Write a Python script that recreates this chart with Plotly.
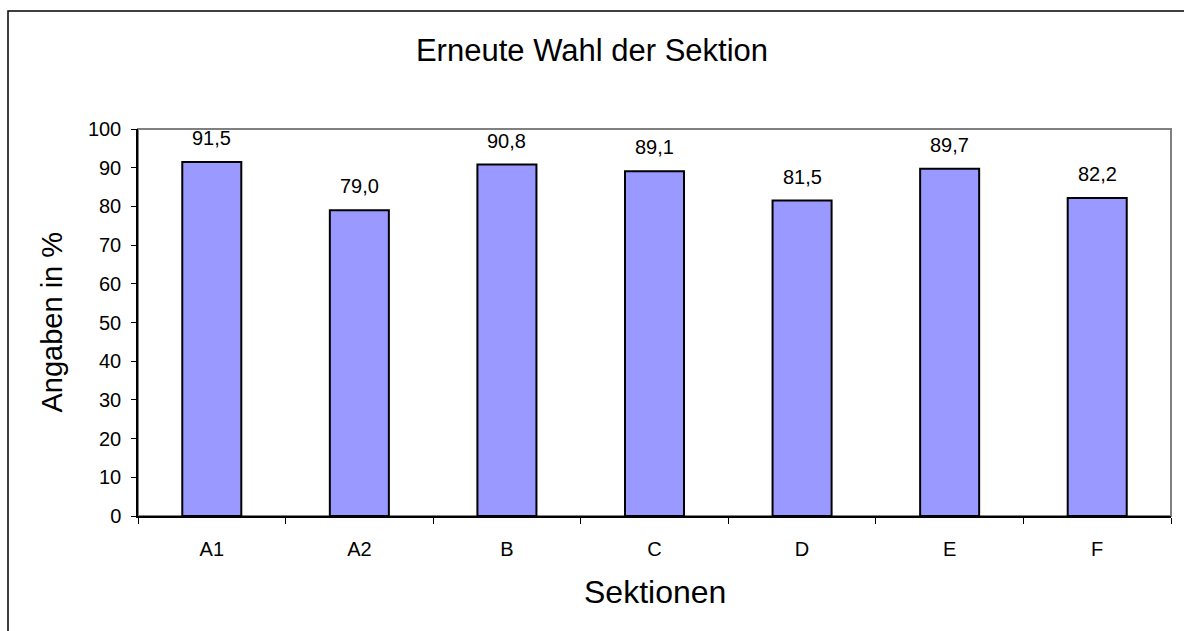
import plotly.graph_objects as go

categories = ["A1", "A2", "B", "C", "D", "E", "F"]
values = [91.5, 79.0, 90.8, 89.1, 81.5, 89.7, 82.2]
y_ticks = [0, 10, 20, 30, 40, 50, 60, 70, 80, 90, 100]

labels = [f"{v:.1f}".replace(".", ",") for v in values]

FONT = "Liberation Sans, Arial, sans-serif"
W, H = 1184, 631
L, R, T, B = 138, 1171, 129, 516
pw, ph = R - L, B - T

fig = go.Figure()
fig.add_trace(go.Bar(
    x=categories, y=values, width=0.4,
    marker=dict(color="#9999FF", line=dict(color="black", width=2)),
    hoverinfo="x+y",
))

annotations = []
for c, v, t in zip(categories, values, labels):
    annotations.append(dict(x=c, y=v, xref="x", yref="y", text=t, showarrow=False,
                            yanchor="bottom", yshift=11,
                            font=dict(family=FONT, size=20, color="black")))
# axis titles
annotations.append(dict(x=(51 - L) / pw, y=0.5, xref="paper", yref="paper",
                        text="Angaben in %", textangle=-90, showarrow=False,
                        xanchor="center", yanchor="middle",
                        font=dict(family=FONT, size=29, color="black")))
annotations.append(dict(x=0.5, y=(B - 592) / ph, xref="paper", yref="paper",
                        text="Sektionen", showarrow=False,
                        xanchor="center", yanchor="middle",
                        font=dict(family=FONT, size=32, color="black")))

shapes = [
    # plot area frame (grey)
    dict(type="rect", xref="paper", yref="paper", x0=0, x1=1, y0=0, y1=1,
         line=dict(color="#808080", width=2), layer="below"),
    # outer chart border
    dict(type="rect", xref="paper", yref="paper",
         x0=(8 - L) / pw, x1=(1200 - L) / pw, y0=(B - 650) / ph, y1=(B - 11) / ph,
         line=dict(color="black", width=1.5), layer="below"),
]

fig.update_layout(
    width=W, height=H,
    margin=dict(l=L, r=W - R, t=T, b=H - B),
    paper_bgcolor="white", plot_bgcolor="white",
    showlegend=False,
    title=dict(text="Erneute Wahl der Sektion", x=0.5, xref="container",
               y=1 - 50 / H, yref="container", xanchor="center", yanchor="middle",
               font=dict(family=FONT, size=31, color="black")),
    font=dict(family=FONT, color="black"),
    annotations=annotations,
    shapes=shapes,
    bargap=0.6,
)
fig.update_xaxes(
    type="category", showgrid=False, showline=True, linecolor="black", linewidth=1.5,
    ticks="outside", tickson="boundaries", ticklen=6, tickcolor="black", tickwidth=1,
    tickfont=dict(family=FONT, size=20, color="black"), ticklabelstandoff=14,
)
fig.update_yaxes(
    range=[0, 100], tickvals=y_ticks, showgrid=False, zeroline=False,
    showline=True, linecolor="black", linewidth=1.5,
    ticks="outside", ticklen=5, tickcolor="black", tickwidth=1,
    tickfont=dict(family=FONT, size=20, color="black"), ticklabelstandoff=6,
)

fig.write_html("out.html", config={"displayModeBar": False},
               post_script="document.body.style.margin='0';document.body.style.overflow='hidden';")
